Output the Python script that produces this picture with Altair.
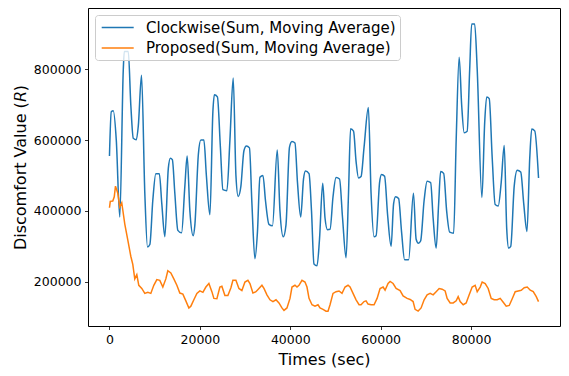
import altair as alt
import pandas as pd

series_names = ["Clockwise(Sum, Moving Average)", "Proposed(Sum, Moving Average)"]
series_colors = ["#1f77b4", "#ff7f0e"]

clock_t = [0, 400, 840, 1510, 2280, 3060, 3280, 4160, 4720, 5270, 5940, 6380, 7090, 7820,
           8420, 8930, 9590, 10260, 11030, 11580, 12250, 13020, 13470, 13910, 14460, 15130,
           15950, 16680, 17190, 17790, 18520, 18890, 19670, 20220, 20890, 21440, 22220, 22880,
           23210, 23880, 24540, 25100, 25980, 26650, 27380, 27980, 28480, 29080, 29750, 30300,
           30970, 31520, 32180, 32740, 33290, 33960, 34510, 35290, 36060, 37120, 37720, 38450,
           39050, 39830, 40380, 41040, 41600, 42310, 42930, 43370, 44150, 44700, 45250, 45920,
           46470, 47180, 47690, 48240, 48800, 49460, 50130, 50900, 51570, 52340, 52890, 53340,
           54000, 54560, 55110, 55660, 56330, 57280, 57880, 58540, 58990, 59760, 60200, 60870,
           61530, 62310, 62860, 63300, 63970, 64630, 65300, 66190, 67250, 67850, 68350, 68840,
           69620, 70280, 71060, 71610, 72280, 72830, 73270, 73940, 74600, 75270, 76150, 76710,
           77370, 77920, 78480, 79140, 79700, 80140, 80800, 81360, 82400, 83020, 83460, 84020,
           84680, 85340, 86010, 86670, 87340, 87890, 88330, 88780, 89550, 90220, 90990, 91660,
           92370, 92990, 93430, 94090, 94930]
clock_v = [555000, 680000, 683000, 600000, 383000, 800000, 850000, 850000, 700000, 605000,
           601000, 640000, 783000, 450000, 298000, 305000, 430000, 505000, 505000, 420000,
           327000, 520000, 549000, 545000, 450000, 345000, 338000, 470000, 555000, 400000,
           330000, 360000, 560000, 600000, 600000, 500000, 389000, 680000, 728000, 722000,
           580000, 460000, 457000, 600000, 775000, 500000, 441000, 470000, 570000, 583000,
           578000, 420000, 265000, 340000, 495000, 500000, 430000, 362000, 358000, 572000,
           400000, 327000, 360000, 580000, 596000, 592000, 480000, 383000, 490000, 513000,
           505000, 400000, 250000, 245000, 320000, 478000, 380000, 347000, 348000, 440000,
           494000, 490000, 380000, 268000, 450000, 632000, 625000, 540000, 493000, 497000,
           580000, 692000, 450000, 327000, 330000, 480000, 503000, 498000, 390000, 300000,
           420000, 440000, 435000, 340000, 262000, 262000, 450000, 320000, 309000, 315000,
           430000, 484000, 480000, 380000, 295000, 420000, 511000, 506000, 400000, 340000,
           337000, 600000, 834000, 700000, 621000, 625000, 800000, 928000, 928000, 800000,
           438000, 650000, 722000, 717000, 550000, 418000, 414000, 480000, 585000, 350000,
           295000, 300000, 470000, 515000, 510000, 420000, 342000, 550000, 631000, 626000,
           493000]

prop_t = [0, 180, 730, 1060, 1330, 1620, 1840, 2280, 2720, 3390, 4050, 4720, 5160, 5600, 6050,
          6490, 7150, 7820, 8480, 9150, 9810, 10480, 11140, 11810, 12470, 12910, 13580, 14240,
          14910, 15570, 16240, 16900, 17570, 18010, 18670, 19340, 20000, 20670, 21330, 22000,
          22660, 23100, 23770, 24430, 24870, 25540, 26200, 26870, 27310, 27980, 28640, 29300,
          29970, 30630, 31080, 31740, 32410, 33070, 33730, 34180, 34840, 35510, 36170, 36840,
          37500, 38160, 38610, 39270, 39940, 40380, 41040, 41490, 41930, 42590, 43260, 43700,
          44150, 44810, 45470, 46140, 46580, 47250, 47910, 48350, 48800, 49460, 50130, 50790,
          51450, 52120, 52780, 53230, 53890, 54560, 55220, 55660, 56330, 56770, 57210, 57880,
          58540, 59210, 59870, 60540, 60980, 61640, 62090, 62750, 63420, 64300, 64970, 65850,
          66520, 67180, 67620, 68290, 68950, 69620, 70280, 70950, 71610, 72280, 72940, 73600,
          74270, 74710, 75380, 76040, 76710, 77150, 77590, 78260, 78920, 79590, 80250, 80910,
          81360, 82020, 82460, 83130, 83790, 84460, 85120, 85790, 86450, 87120, 87780, 88450,
          89110, 89770, 90440, 91100, 91770, 92430, 93100, 93760, 94430, 94930]
prop_v = [409000, 427000, 428000, 440000, 470000, 459000, 450000, 411000, 423000, 363000,
          318000, 272000, 249000, 208000, 220000, 190000, 181000, 167000, 170000, 167000,
          190000, 206000, 204000, 185000, 208000, 231000, 225000, 208000, 190000, 168000,
          165000, 146000, 126000, 131000, 149000, 167000, 174000, 170000, 185000, 195000,
          172000, 153000, 152000, 185000, 187000, 161000, 161000, 183000, 204000, 204000,
          181000, 175000, 199000, 204000, 195000, 168000, 172000, 181000, 190000, 181000,
          163000, 149000, 144000, 149000, 140000, 126000, 119000, 126000, 153000, 185000,
          190000, 185000, 190000, 204000, 199000, 185000, 153000, 135000, 131000, 135000,
          126000, 122000, 117000, 117000, 135000, 167000, 172000, 174000, 167000, 185000,
          190000, 185000, 167000, 149000, 135000, 135000, 144000, 146000, 137000, 135000,
          135000, 153000, 181000, 185000, 176000, 195000, 201000, 195000, 181000, 175000,
          160000, 153000, 150000, 144000, 122000, 117000, 126000, 149000, 163000, 167000,
          163000, 172000, 181000, 179000, 174000, 153000, 140000, 140000, 146000, 158000,
          144000, 135000, 140000, 163000, 185000, 190000, 172000, 185000, 199000, 195000,
          181000, 153000, 149000, 149000, 153000, 142000, 131000, 133000, 152000, 172000,
          174000, 176000, 183000, 185000, 176000, 172000, 158000, 144000]

x_ticks = [0, 20000, 40000, 60000, 80000]
y_ticks = [200000, 400000, 600000, 800000]

df_clock = pd.DataFrame({"t": clock_t, "v": clock_v, "series": series_names[0]})
df_prop = pd.DataFrame({"t": prop_t, "v": prop_v, "series": series_names[1]})

FONT = "DejaVu Sans"
PLOT_H = 318

x_enc = alt.X("t:Q",
              scale=alt.Scale(domain=[-4750, 99680], nice=False, zero=False),
              axis=alt.Axis(values=x_ticks, format="d", title="Times (sec)",
                            titleY=356 - PLOT_H, titleBaseline="alphabetic"))
y_enc = alt.Y("v:Q",
              scale=alt.Scale(domain=[75000, 973000], nice=False, zero=False),
              axis=alt.Axis(values=y_ticks, format="d", title="Discomfort Value (\U0001D619)",
                            titleX=-63, titleBaseline="alphabetic"))
color_enc = alt.Color("series:N",
                      scale=alt.Scale(domain=series_names, range=series_colors),
                      legend=alt.Legend(title=None, orient="top-left", offset=7,
                                        padding=3.5, fillColor="rgba(255,255,255,0.8)",
                                        strokeColor="#cccccc", cornerRadius=3,
                                        labelFontSize=15, labelFont=FONT, labelColor="black",
                                        symbolType="M-0.725,0H3.275", symbolSize=256,
                                        symbolStrokeWidth=1.5, labelOffset=29.5,
                                        rowPadding=3.4, labelLimit=400))

blue = alt.Chart(df_clock).mark_line(strokeWidth=1.5, interpolate="monotone").encode(
    x=x_enc, y=y_enc, color=color_enc)
orange = alt.Chart(df_prop).mark_line(strokeWidth=1.5).encode(
    x=x_enc, y=y_enc, color=color_enc)

chart = alt.layer(blue, orange).properties(
    width=472, height=PLOT_H,
    padding={"left": 80, "top": 0, "right": 1, "bottom": 360 - PLOT_H},
    autosize="none",
    background="white",
).configure_view(
    stroke="black", strokeWidth=1
).configure_axis(
    domain=False, grid=False, ticks=True, tickSize=3.5, tickWidth=0.8, tickColor="black",
    labelFont=FONT, labelFontSize=12.5, labelColor="black", labelPadding=3.5,
    titleFont=FONT, titleFontSize=16, titleFontWeight="normal", titleColor="black",
)

chart.save("out.html", embed_options={"renderer": "svg", "actions": False})
